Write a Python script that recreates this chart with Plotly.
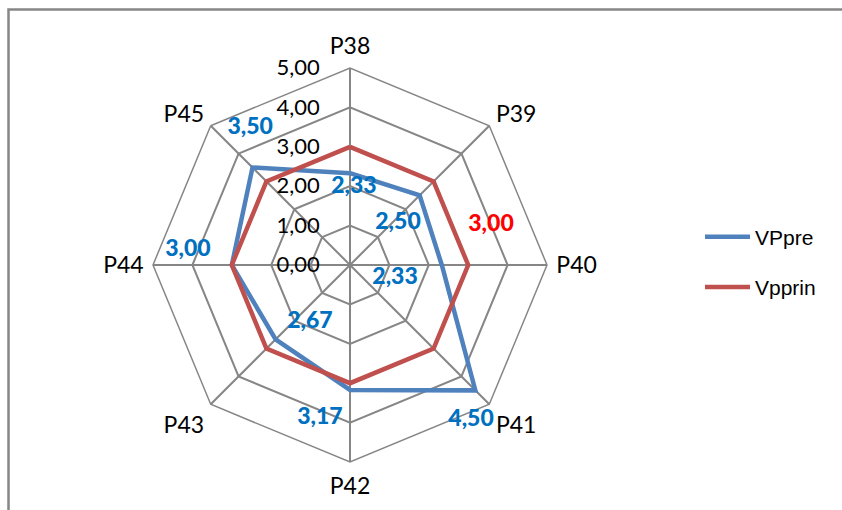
import plotly.graph_objects as go

categories = ["P38", "P39", "P40", "P41", "P42", "P43", "P44", "P45"]
vppre = [2.33, 2.50, 2.33, 4.50, 3.17, 2.67, 3.00, 3.50]
vpprin = [3.00, 3.00, 3.00, 3.00, 3.00, 3.00, 3.00, 3.00]
radial_ticks = [0, 1, 2, 3, 4, 5]
radial_ticktext = ["0,00", "1,00", "2,00", "3,00", "4,00", "5,00"]

def fmt(v):
    return f"{v:.2f}".replace(".", ",")

# label placement (polar r, angle in degrees) -- layout/style only
blue_label_pos = [(1.98, 2.9), (1.62, 48.8), (1.19, 106.1), (4.99, 142.0),
                  (3.96, 191.1), (1.77, 215.1), (4.13, 275.3), (4.30, 323.9)]
red_label_idx = 2
red_label_pos = (3.72, 74.2)

BLUE = "#4F81BD"
RED = "#C0504D"
GRID = "#868686"
FONT = "Lato, Open Sans, sans-serif"

fig = go.Figure()
fig.add_trace(go.Scatterpolar(
    r=vppre + [vppre[0]], theta=categories + [categories[0]], mode="lines", name="VPpre",
    line=dict(color=BLUE, width=4.5), legendgroup="a", subplot="polar"))
fig.add_trace(go.Scatterpolar(
    r=vpprin + [vpprin[0]], theta=categories + [categories[0]], mode="lines", name="Vpprin",
    line=dict(color=RED, width=4.5), legendgroup="b", subplot="polar"))

fig.add_trace(go.Scatterpolar(
    r=[p[0] for p in blue_label_pos], theta=[p[1] for p in blue_label_pos],
    mode="text", text=[fmt(v) for v in vppre], showlegend=False, cliponaxis=False,
    textfont=dict(family=FONT, size=23, color="#0070C0", weight=900),
    hoverinfo="skip", subplot="polar2"))
fig.add_trace(go.Scatterpolar(
    r=[red_label_pos[0]], theta=[red_label_pos[1]],
    mode="text", text=[fmt(vpprin[red_label_idx])], showlegend=False, cliponaxis=False,
    textfont=dict(family=FONT, size=23, color="#FF0000", weight=900),
    hoverinfo="skip", subplot="polar2"))

W, H = 842, 510
cx, cy, R = 350, 265, 197
dom = dict(x=[(cx - R) / W, (cx + R) / W], y=[(H - cy - R) / H, (H - cy + R) / H])

fig.update_layout(
    width=W, height=H,
    margin=dict(l=0, r=0, t=0, b=0),
    paper_bgcolor="white",
    showlegend=True,
    legend=dict(x=700 / W, y=1 - 262 / H, xanchor="left", yanchor="middle",
                font=dict(family="Liberation Sans Narrow, Liberation Sans, Arial", size=21, color="black"),
                tracegroupgap=20, itemwidth=45, bgcolor="rgba(0,0,0,0)"),
    polar=dict(
        domain=dom,
        bgcolor="white",
        gridshape="linear",
        radialaxis=dict(range=[0, 5], tickvals=radial_ticks, ticktext=radial_ticktext,
                        angle=90, side="counterclockwise", tickangle=90,
                        showline=False, gridcolor=GRID, gridwidth=1.5,
                        ticks="outside", ticklen=22, tickcolor="rgba(0,0,0,0)",
                        tickfont=dict(family=FONT, size=22, color="black")),
        angularaxis=dict(type="category", direction="clockwise",
                         rotation=90, categoryorder="array", categoryarray=categories,
                         showline=True, linecolor=GRID, linewidth=1.5,
                         gridcolor=GRID, gridwidth=1.5, ticks="outside", ticklen=4,
                         tickcolor="rgba(0,0,0,0)",
                         tickfont=dict(family=FONT, size=23, color="black")),
    ),
    polar2=dict(
        domain=dom,
        bgcolor="rgba(0,0,0,0)",
        radialaxis=dict(range=[0, 5], visible=False),
        angularaxis=dict(type="linear", thetaunit="degrees", direction="clockwise",
                         rotation=90, visible=False),
    ),
    shapes=[dict(type="rect", xref="paper", yref="paper",
                 x0=8.5 / W, x1=1.05, y0=-0.05, y1=1 - 9.5 / H,
                 line=dict(color="#868686", width=2.5), fillcolor="rgba(0,0,0,0)",
                 layer="below")],
)

fig.write_html("out.html", config={"displayModeBar": False},
               post_script="document.body.style.margin='0';document.body.style.overflow='hidden';")
